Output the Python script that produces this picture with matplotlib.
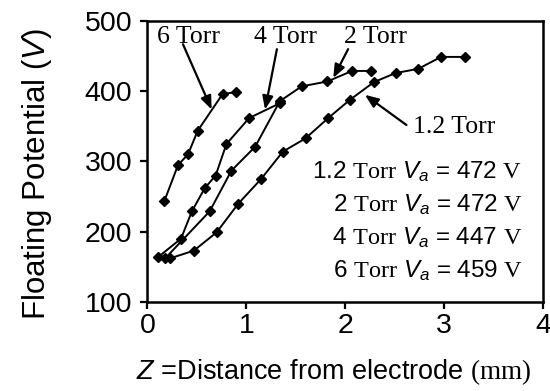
import matplotlib
matplotlib.use("Agg")
import matplotlib.pyplot as plt

plt.rcParams["font.family"] = ["Liberation Sans", "DejaVu Sans"]
plt.rcParams["mathtext.fontset"] = "custom"
plt.rcParams["mathtext.rm"] = "Liberation Serif"
plt.rcParams["mathtext.it"] = "Liberation Sans:italic"
plt.rcParams["mathtext.bf"] = "Liberation Sans:bold"

# Floating potential profiles vs. distance from electrode
z_12 = [0.23, 0.47, 0.70, 0.92, 1.15, 1.37, 1.60, 1.83, 2.05, 2.29, 2.51, 2.74, 2.97, 3.21]
v_12 = [162, 173, 199, 240, 275, 314, 333, 362, 388, 413, 426, 432, 449, 449]

z_2 = [0.18, 0.63, 0.85, 1.09, 1.34, 1.56, 1.82, 2.07, 2.26]
v_2 = [162, 229, 287, 321, 386, 407, 414, 429, 429]

z_4 = [0.11, 0.34, 0.45, 0.58, 0.69, 0.80, 1.03, 1.34]
v_4 = [164, 190, 229, 262, 280, 325, 362, 383]

z_6 = [0.17, 0.31, 0.41, 0.51, 0.76, 0.90]
v_6 = [243, 295, 310, 344, 396, 399]

x_ticks = [0, 1, 2, 3, 4]
y_ticks = [100, 200, 300, 400, 500]

conditions = ["1.2", "2", "4", "6"]
applied_v = [472, 472, 447, 459]

fig = plt.figure(figsize=(5.5, 3.91), dpi=100)
ax = fig.add_axes([0.268, 0.228, 0.719, 0.718])

for z, v in [(z_12, v_12), (z_2, v_2), (z_4, v_4), (z_6, v_6)]:
    ax.plot(z, v, color="black", lw=1.4, marker="D", ms=5.5,
            mfc="black", mec="black")

ax.set_xlim(0, 4)
ax.set_ylim(100, 500)
ax.set_xticks(x_ticks)
ax.set_yticks(y_ticks)
ax.tick_params(axis="both", direction="out", length=5, width=1.6,
               labelsize=20.5, pad=3)
ax.tick_params(axis="y", pad=6)
for s in ax.spines.values():
    s.set_linewidth(1.8)

ax.set_ylabel(r"Floating Potential ($V$)", fontsize=22.5, va="center")
ax.yaxis.set_label_coords(-0.28, 0.454)
ax.set_xlabel(r"$Z$ =Distance from electrode $\mathrm{(mm)}$", fontsize=19.5,
              va="center")
ax.xaxis.set_label_coords(0.472, -0.25)

arrow_kw = dict(arrowstyle="-|>,head_length=0.8,head_width=0.32",
                color="black", lw=1.6, shrinkA=0, shrinkB=0)
serif = "Liberation Serif"

labels = [
    ("6 Torr", (0.42, 478), (0.36, 467), (0.65, 374)),
    ("4 Torr", (1.40, 477), (1.31, 460), (1.19, 374)),
    ("2 Torr", (2.31, 477), (2.03, 460), (1.88, 419)),
    ("1.2 Torr", (3.10, 349), (2.62, 352), (2.20, 395)),
]
for txt, tpos, tail, head in labels:
    ax.annotate("", xy=head, xytext=tail, arrowprops=arrow_kw)
    ax.text(tpos[0], tpos[1], txt, fontsize=18.5, family=serif,
            ha="center", va="center")

for i, (p, va_) in enumerate(zip(conditions, applied_v)):
    ax.text(3.795, 286 - i * 47,
            rf"{p} $\mathrm{{Torr}}$ $V_a$ = {va_} $\mathrm{{V}}$",
            fontsize=17.5, ha="right", va="center")

fig.savefig("out.png", dpi=100)
